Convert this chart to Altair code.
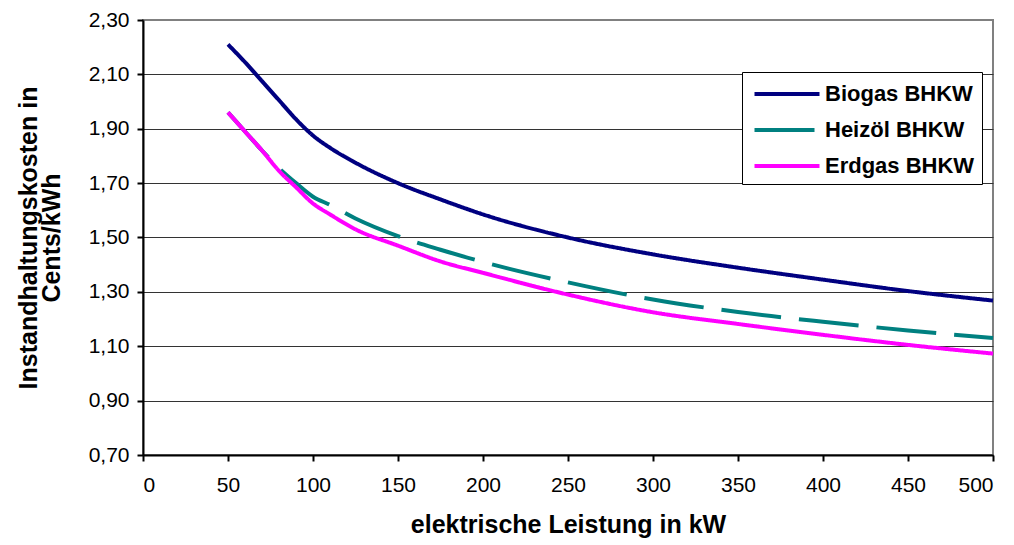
import altair as alt
import pandas as pd

# Data
leistung_kw = [50, 60, 70, 80, 90, 100, 110, 125, 150, 175, 200, 250, 300, 350, 400, 450, 500]
biogas = [2.21, 2.145, 2.075, 2.005, 1.935, 1.875, 1.830, 1.775, 1.700, 1.640, 1.585, 1.500, 1.438, 1.389, 1.345, 1.303, 1.268]
heizoel = [1.96, 1.89, 1.82, 1.755, 1.70, 1.65, 1.62, 1.57, 1.505, 1.455, 1.41, 1.335, 1.272, 1.226, 1.19, 1.158, 1.130]
erdgas = [1.96, 1.89, 1.82, 1.745, 1.685, 1.625, 1.585, 1.53, 1.47, 1.412, 1.37, 1.29, 1.225, 1.182, 1.142, 1.105, 1.073]

series_names = ["Biogas BHKW", "Heizöl BHKW", "Erdgas BHKW"]
series_colors = ["#000080", "#008080", "#FF00FF"]
series_dash = [[1, 0], [60, 18], [1, 0]]

x_ticks = [0, 50, 100, 150, 200, 250, 300, 350, 400, 450, 500]
y_ticks = [0.70, 0.90, 1.10, 1.30, 1.50, 1.70, 1.90, 2.10, 2.30]

rows = []
for name, vals in zip(series_names, [biogas, heizoel, erdgas]):
    for x, y in zip(leistung_kw, vals):
        rows.append({"Leistung": x, "Kosten": y, "Serie": name})
df = pd.DataFrame(rows)

FONT = "Liberation Sans"

color_scale = alt.Scale(domain=series_names, range=series_colors)
dash_scale = alt.Scale(domain=series_names, range=series_dash)

legend = alt.Legend(
    title=None,
    orient="none",
    legendX=599,
    legendY=52,
    strokeColor="black",
    fillColor="white",
    padding=7,
    symbolType="M-2.5,0H2.5",
    symbolSize=676,
    symbolOffset=23,
    symbolStrokeWidth=4,
    labelFont=FONT,
    labelFontSize=22,
    labelFontWeight="bold",
    labelColor="black",
    labelOffset=23,
    labelLimit=400,
    rowPadding=10,
)

x_enc = alt.X(
    "Leistung:Q",
    scale=alt.Scale(domain=[0, 500], nice=False),
    axis=alt.Axis(
        values=x_ticks,
        title="elektrische Leistung in kW",
        titleFontSize=25,
        grid=False,
        domainColor="black",
        domainWidth=2,
        tickColor="black",
        tickWidth=2,
        tickSize=6,
        labelPadding=13,
        titlePadding=17,
    ),
)
y_enc = alt.Y(
    "Kosten:Q",
    scale=alt.Scale(domain=[0.70, 2.30], nice=False, zero=False),
    axis=alt.Axis(
        values=y_ticks,
        labelExpr="replace(format(datum.value, '.2f'), '.', ',')",
        title=["Instandhaltungskosten  in", "Cents/kWh"],
        titleFontSize=25,
        titleLineHeight=23,
        grid=True,
        gridColor={"condition": {"test": "datum.value >= 2.29", "value": "#808080"}, "value": "#333333"},
        gridWidth=1,
        domainColor="black",
        domainWidth=2,
        tickColor="black",
        tickWidth=2,
        tickSize=6,
        labelPadding=8,
        titlePadding=24,
    ),
)

layers = []
for name in series_names:
    layers.append(
        alt.Chart(df)
        .transform_filter(alt.datum.Serie == name)
        .mark_line(strokeWidth=4, interpolate="monotone", strokeCap="butt")
        .encode(
            x=x_enc,
            y=y_enc,
            color=alt.Color("Serie:N", scale=color_scale, legend=legend),
            strokeDash=alt.StrokeDash("Serie:N", scale=dash_scale, legend=legend),
        )
    )

chart = (
    alt.layer(*layers)
    .properties(
        width=850,
        height=435,
        autosize=alt.AutoSizeParams(type="none"),
        padding={"left": 135, "top": 12, "right": 13, "bottom": 88},
    )
    .configure_view(stroke="#808080", strokeWidth=2)
    .configure_axis(
        labelFont=FONT,
        labelFontSize=21,
        labelColor="black",
        titleFont=FONT,
        titleFontWeight="bold",
        titleColor="black",
    )
)

chart.save("out.html", embed_options={"renderer": "svg", "actions": False})
